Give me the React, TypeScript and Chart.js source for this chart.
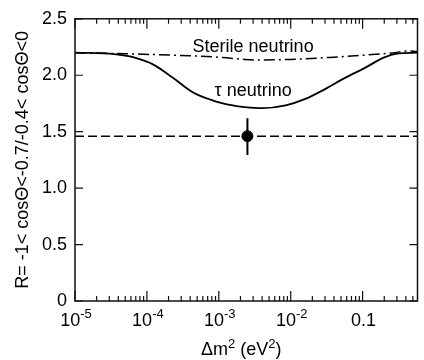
import React, { useEffect, useRef } from "react";
import { Chart, registerables } from "chart.js";

Chart.register(...registerables);

// ---- data ----
const X_MIN = 1e-5;
const X_MAX = 0.58;

const TAU_X = [1e-5, 3.5e-5, 6.6e-5, 1.25e-4, 2.3e-4, 4.4e-4, 8.3e-4, 1.56e-3, 2.3e-3, 4e-3, 8.5e-3, 1.6e-2, 3e-2, 5.7e-2, 0.106, 0.2, 0.3, 0.58];
const TAU_Y = [2.2, 2.187, 2.158, 2.092, 1.977, 1.847, 1.776, 1.733, 1.718, 1.708, 1.733, 1.79, 1.877, 1.977, 2.063, 2.158, 2.192, 2.2];

const STERILE_X = [1e-5, 5e-5, 2.3e-4, 1.1e-3, 2.3e-3, 3.5e-3, 1e-2, 3.5e-2, 0.1, 0.28, 0.4, 0.58];
const STERILE_Y = [2.2, 2.19, 2.178, 2.158, 2.14, 2.135, 2.14, 2.158, 2.178, 2.2, 2.215, 2.21];

const REF_Y = 1.46;

const DATA_X = [2.5e-3];
const DATA_Y = [1.46];
const DATA_LOW = [1.293];
const DATA_HIGH = [1.62];

const X_MAJOR = [1e-5, 1e-4, 1e-3, 1e-2, 0.1];
// [base, superscript]
const X_LABELS: [string, string][] = [
  ["10", "-5"],
  ["10", "-4"],
  ["10", "-3"],
  ["10", "-2"],
  ["0.1", ""],
];
const Y_TICKS = [0, 0.5, 1, 1.5, 2, 2.5];
const Y_LABELS = ["0", "0.5", "1.0", "1.5", "2.0", "2.5"];

const LABELS = [
  { text: "Sterile neutrino", x: 3.0e-3, y: 2.207 },
  { text: "\u03C4 neutrino", x: 3.0e-3, y: 1.819 },
];

// x title pieces: [text, isSuperscript]
const X_TITLE: [string, boolean][] = [
  ["\u0394m", false],
  ["2", true],
  [" (eV", false],
  ["2", true],
  [")", false],
];
const Y_TITLE = "R= -1< cos\u0398<-0.7/-0.4< cos\u0398<0";

const FONT = '"Liberation Sans", Arial, Helvetica, sans-serif';
const BASE_SIZE = 18;
const SUP_SIZE = 13;

const minorTicks = (): number[] => {
  const out: number[] = [];
  X_MAJOR.forEach((d) => {
    for (let k = 2; k <= 9; k++) {
      const v = k * d;
      if (v <= X_MAX) out.push(v);
    }
  });
  return out;
};

const drawPieces = (ctx: any, pieces: [string, boolean][], cx: number, baseline: number, rise: number) => {
  const widths = pieces.map(([t, sup]) => {
    ctx.font = `${sup ? SUP_SIZE : BASE_SIZE}px ${FONT}`;
    return ctx.measureText(t).width;
  });
  const total = widths.reduce((a, b) => a + b, 0);
  let x = cx - total / 2;
  pieces.forEach(([t, sup], i) => {
    ctx.font = `${sup ? SUP_SIZE : BASE_SIZE}px ${FONT}`;
    ctx.fillText(t, x, sup ? baseline - rise : baseline);
    x += widths[i];
  });
};

const framePlugin = {
  id: "frame",
  afterDatasetsDraw(chart: any) {
    const { ctx } = chart;
    const xs = chart.scales.x;
    const ys = chart.scales.y;
    ctx.save();
    ctx.fillStyle = "#000";
    ctx.font = `${BASE_SIZE}px ${FONT}`;
    ctx.textAlign = "center";
    ctx.textBaseline = "alphabetic";
    LABELS.forEach((l) => {
      ctx.fillText(l.text, xs.getPixelForValue(l.x), ys.getPixelForValue(l.y));
    });
    ctx.restore();
  },
  afterDraw(chart: any) {
    const { ctx, chartArea } = chart;
    const { left, right, top, bottom } = chartArea;
    const xs = chart.scales.x;
    const ys = chart.scales.y;
    ctx.save();
    ctx.strokeStyle = "#111";
    ctx.lineWidth = 1.5;
    ctx.strokeRect(left, top, right - left, bottom - top);
    ctx.lineWidth = 1.2;
    ctx.beginPath();
    const drawX = (v: number, len: number) => {
      const px = xs.getPixelForValue(v);
      ctx.moveTo(px, bottom);
      ctx.lineTo(px, bottom - len);
      ctx.moveTo(px, top);
      ctx.lineTo(px, top + len);
    };
    X_MAJOR.forEach((v) => drawX(v, 10));
    minorTicks().forEach((v) => drawX(v, 5));
    Y_TICKS.forEach((v) => {
      const py = ys.getPixelForValue(v);
      ctx.moveTo(left, py);
      ctx.lineTo(left + 8, py);
      ctx.moveTo(right, py);
      ctx.lineTo(right - 8, py);
    });
    ctx.stroke();

    // x tick labels with superscripts
    ctx.fillStyle = "#000";
    ctx.textAlign = "left";
    ctx.textBaseline = "alphabetic";
    X_MAJOR.forEach((v, i) => {
      const [b, s] = X_LABELS[i];
      const pieces: [string, boolean][] = s ? [[b, false], [s, true]] : [[b, false]];
      drawPieces(ctx, pieces, xs.getPixelForValue(v) + 1, bottom + 25, 8);
    });
    // x title
    drawPieces(ctx, X_TITLE, (left + right) / 2 - 5, bottom + 54, 7);
    ctx.restore();
  },
};

export default function App() {
  const ref = useRef<HTMLCanvasElement>(null);

  useEffect(() => {
    document.body.style.margin = "0";
    Chart.defaults.font.family = FONT;
    Chart.defaults.color = "#000";
    const canvas = ref.current!;
    const chart = new Chart(canvas, {
      type: "line",
      data: {
        datasets: [
          {
            data: TAU_X.map((x, i) => ({ x, y: TAU_Y[i] })),
            borderColor: "#000",
            borderWidth: 1.8,
            pointRadius: 0,
            cubicInterpolationMode: "monotone",
          },
          {
            data: STERILE_X.map((x, i) => ({ x, y: STERILE_Y[i] })),
            borderColor: "#000",
            borderWidth: 1.5,
            borderDash: [11, 4, 2, 4],
            pointRadius: 0,
            cubicInterpolationMode: "monotone",
          },
          {
            data: [
              { x: X_MIN, y: REF_Y },
              { x: X_MAX, y: REF_Y },
            ],
            borderColor: "#000",
            borderWidth: 1.5,
            borderDash: [9, 4],
            pointRadius: 0,
          },
          {
            data: [
              { x: DATA_X[0], y: DATA_LOW[0] },
              { x: DATA_X[0], y: DATA_HIGH[0] },
            ],
            borderColor: "#000",
            borderWidth: 2,
            pointRadius: 0,
          },
          {
            data: DATA_X.map((x, i) => ({ x, y: DATA_Y[i] })),
            showLine: false,
            pointRadius: 5.5,
            pointBackgroundColor: "#000",
            pointBorderColor: "#000",
          },
        ],
      } as any,
      options: {
        responsive: false,
        maintainAspectRatio: false,
        animation: false,
        layout: { padding: { top: 13, right: 1, left: 0, bottom: 0 } },
        plugins: { legend: { display: false }, tooltip: { enabled: false } },
        scales: {
          x: {
            type: "logarithmic",
            min: X_MIN,
            max: X_MAX,
            grid: { display: false, drawTicks: false },
            border: { display: false },
            afterBuildTicks: (s: any) => {
              s.ticks = X_MAJOR.map((v) => ({ value: v }));
            },
            ticks: {
              autoSkip: false,
              maxRotation: 0,
              padding: 6,
              font: { size: BASE_SIZE },
              color: "#000",
              callback: () => "",
            },
            afterFit: (s: any) => {
              s.height = 59;
            },
          },
          y: {
            min: 0,
            max: 2.5,
            grid: { display: false, drawTicks: false },
            border: { display: false },
            afterBuildTicks: (s: any) => {
              s.ticks = Y_TICKS.map((v) => ({ value: v }));
            },
            ticks: {
              padding: 8,
              font: { size: BASE_SIZE },
              color: "#000",
              callback: (_v: any, i: number) => Y_LABELS[i],
            },
            title: {
              display: true,
              text: Y_TITLE,
              font: { size: BASE_SIZE },
              color: "#000",
              padding: { top: 12, bottom: 0 },
            },
            afterFit: (s: any) => {
              s.width = 75;
            },
          },
        },
      } as any,
      plugins: [framePlugin],
    });
    return () => chart.destroy();
  }, []);

  return (
    <div style={{ width: 424, height: 360 }}>
      <canvas ref={ref} width={424} height={360} style={{ width: 424, height: 360, display: "block" }} />
    </div>
  );
}
